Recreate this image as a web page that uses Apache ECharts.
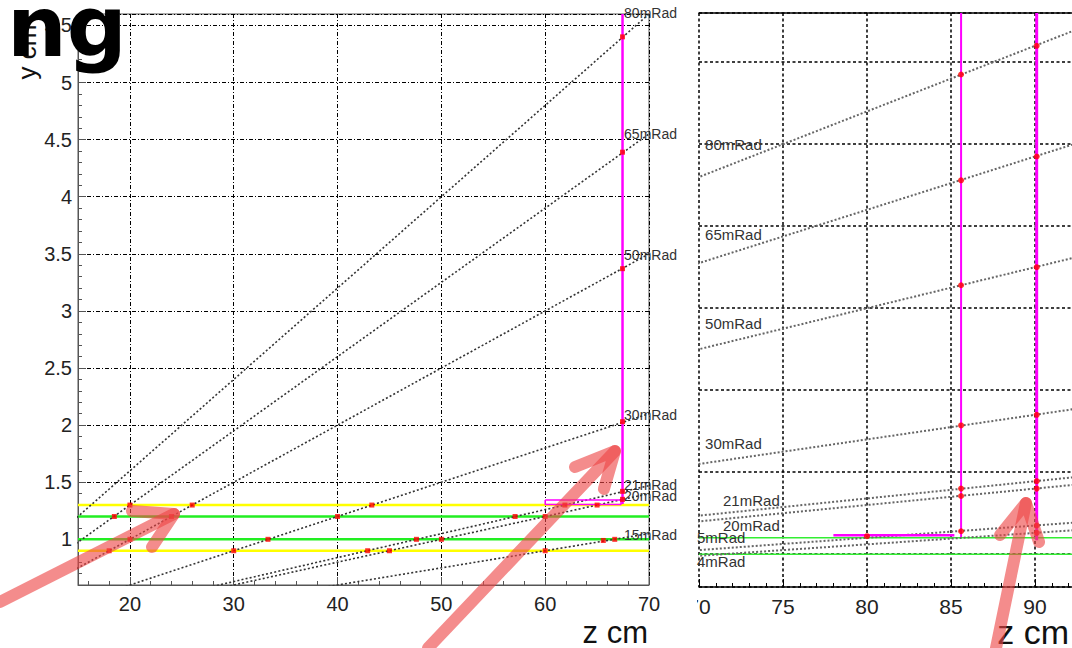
<!DOCTYPE html>
<html><head><meta charset="utf-8">
<script src="https://cdn.jsdelivr.net/npm/echarts@6/dist/echarts.min.js"></script>
<style>html,body{margin:0;padding:0;background:#fff}#c{width:1072px;height:648px}</style>
</head><body><div id="c"></div>
<script>
// ---------------- data ----------------
// beam-angle lines through the origin, in mRad
const leftAnglesMrad  = [80, 65, 50, 30, 21, 20, 15];
const rightAnglesMrad = [80, 65, 50, 30, 21, 20, 15, 14];
// angle labels and their anchor points (z cm, y cm)
const leftLabels   = ['80mRad','65mRad','50mRad','30mRad','21mRad','20mRad','15mRad'];
const leftLabelZ   = [67.6, 67.6, 67.6, 67.6, 67.6, 67.6, 67.6];
const leftLabelY   = [5.61, 4.55, 3.49, 2.09, 1.48, 1.38, 1.04];
const rightLabels  = ['80mRad','65mRad','50mRad','30mRad','21mRad','20mRad','5mRad','4mRad'];
const rightLabelZ  = [70.36, 70.36, 70.36, 70.36, 71.43, 71.43, 69.88, 69.88];
const rightLabelY  = [6.0, 4.9, 3.81, 2.35, 1.65, 1.35, 1.2, 0.905];
// axis titles
const xTitle = 'z cm';
const yTitle = 'y cm';
// horizontal reference lines (y cm)
const yellowY = [1.3, 0.9];
const greenY  = [1.2, 1.0];
// red hit points (z cm, y cm)
const leftHits = [
  [67.45,5.4],[67.45,4.39],[67.45,3.37],[67.45,2.03],[67.45,1.42],[67.45,1.35],
  [20,1.3],[26,1.3],[43.3,1.3],[61.9,1.3],[65,1.3],
  [18.5,1.2],[24,1.2],[40,1.2],[57.1,1.2],[60,1.2],
  [20,1.0],[33.3,1.0],[47.6,1.0],[50,1.0],[65.6,0.99],[66.7,1.0],
  [18,0.9],[30,0.9],[42.9,0.9],[45,0.9],[60,0.9]
];
const rightHits = [
  [85.6,6.85],[85.6,5.56],[85.6,4.28],[85.6,2.57],[85.6,1.80],[85.6,1.71],[85.6,1.28],
  [90.1,7.2],[90.1,5.85],[90.1,4.5],[90.1,2.7],[90.1,1.89],[90.1,1.8],[90.1,1.35],[90.1,1.26],
  [80,1.22]
];
// magenta detector outlines (z cm, y cm)
const leftMagentaV   = [[67.45,1.31],[67.45,5.6]];
const leftMagentaBox = [[60,1.345],[67.3,1.345],[67.3,1.305],[60,1.305],[60,1.345]];
const rightMagentaV1 = [[85.6,1.21],[85.6,7.6]];
const rightMagentaV2 = [[90.1,1.17],[90.1,7.6]];
const rightMagentaH  = [[78,1.23],[85.2,1.23]];
// pink annotation arrows, in data coordinates of their panel
const arrowPanel = [0, 0, 1];
const arrowShaft = [
  [[7.49,0.451],[24.25,1.222]],
  [[48.71,0.048],[66.72,1.773]],
  [[87.68,-0.144],[89.46,1.624]]
];
const arrowHead = [
  [[20.2,1.248],[24.25,1.222],[22.13,0.933]],
  [[62.87,1.633],[66.72,1.773],[65.66,1.441]],
  [[87.92,1.234],[89.46,1.624],[90.24,1.149]]
];
const leftRange  = {zMin:15, zMax:70, yMin:0.6, yMax:5.6};
const rightRange = {zMin:70, zMax:92.5, yMin:0.6, yMax:7.6};

// ---------------- chart ----------------
const FONT = 'Liberation Sans';
const chart = echarts.init(document.getElementById('c'), null, {renderer:'svg'});
const series = [];

function angleLine(theta, xi, yi, zEnd, color, width, dash){
  return {type:'line', xAxisIndex:xi, yAxisIndex:yi, clip:true, symbol:'none', silent:true,
    data:[[0,0],[zEnd, zEnd*theta/1000]],
    lineStyle:{color:color, width:width, type:dash}, z:3};
}
function poly(data, xi, yi, color, width, z){
  return {type:'line', xAxisIndex:xi, yAxisIndex:yi, clip:true, symbol:'none', silent:true,
    data:data, lineStyle:{color:color, width:width}, z:z||4};
}
yellowY.forEach(y=>series.push(poly([[leftRange.zMin,y],[leftRange.zMax,y]],0,0,'#ffff00',2.5,2)));
greenY.forEach(y=>series.push(poly([[leftRange.zMin,y],[leftRange.zMax,y]],0,0,'#22ee22',2.5,2)));
greenY.forEach(y=>series.push(poly([[rightRange.zMin,y],[rightRange.zMax,y]],1,1,'#33ee33',1.5,2)));
leftAnglesMrad.forEach(t=>series.push(angleLine(t,0,0,leftRange.zMax,'#333',1.6,[2,2.2])));
rightAnglesMrad.forEach(t=>series.push(angleLine(t,1,1,rightRange.zMax,'#666',2,[2,2])));
series.push(poly(leftMagentaV,0,0,'#ff00ff',2.5));
series.push(poly(leftMagentaBox,0,0,'#ff00ff',1.5));
series.push(poly(rightMagentaV1,1,1,'#ff00ff',2));
series.push(poly(rightMagentaV2,1,1,'#ff00ff',3));
series.push(poly(rightMagentaH,1,1,'#ff00ff',2.5));
series.push({type:'scatter', xAxisIndex:0, yAxisIndex:0, symbol:'rect', symbolSize:5, silent:true,
  itemStyle:{color:'#ff0000'}, data:leftHits, z:6});
series.push({type:'scatter', xAxisIndex:1, yAxisIndex:1, symbol:'circle', symbolSize:6, silent:true,
  itemStyle:{color:'#ff0000'}, data:rightHits, z:6});

const gridLeft = {color:'#000', width:1, type:[4,2,1,2]};
const gridRight = {color:'#000', width:1.5, type:[3,2.5]};

chart.setOption({
  animation:false,
  backgroundColor:'#fff',
  grid:[
    {left:78, top:14, width:571, height:571, show:true, borderColor:'#555', borderWidth:1, backgroundColor:'transparent', outerBoundsMode:'none'},
    {left:699, top:13, width:378, height:574, outerBoundsMode:'none'}
  ],
  xAxis:[
    {type:'value', gridIndex:0, min:leftRange.zMin, max:leftRange.zMax, splitNumber:6,
     axisLine:{lineStyle:{color:'#555', width:1}},
     axisTick:{inside:true, length:8, lineStyle:{color:'#555'}},
     minorTick:{show:true, splitNumber:5, length:4, lineStyle:{color:'#555'}},
     axisLabel:{fontSize:20, color:'#222', margin:9, fontFamily:FONT, showMinLabel:false},
     splitLine:{show:true, lineStyle:gridLeft}},
    {type:'value', gridIndex:1, min:rightRange.zMin, max:rightRange.zMax, interval:5,
     axisLine:{lineStyle:{color:'#000', width:1.5}},
     axisTick:{inside:true, length:8, lineStyle:{color:'#000'}},
     minorTick:{show:true, splitNumber:5, length:4, lineStyle:{color:'#000'}},
     axisLabel:{fontSize:21, color:'#222', margin:9, fontFamily:FONT, showMaxLabel:false},
     splitLine:{show:true, lineStyle:gridRight}},
    {type:'value', gridIndex:1, position:'top', min:rightRange.zMin, max:rightRange.zMax,
     axisLine:{show:true, onZero:false, lineStyle:{color:'#000', width:1.5}},
     axisTick:{show:false}, axisLabel:{show:false}, splitLine:{show:false}}
  ],
  yAxis:[
    {type:'value', gridIndex:0, min:leftRange.yMin, max:leftRange.yMax, splitNumber:10,
     axisLine:{show:true, lineStyle:{color:'#555', width:1}},
     axisTick:{show:true, inside:true, length:8, lineStyle:{color:'#555'}},
     minorTick:{show:true, splitNumber:5, length:4, lineStyle:{color:'#555'}},
     axisLabel:{fontSize:20, color:'#222', margin:6, fontFamily:FONT, showMinLabel:false, showMaxLabel:false},
     splitLine:{show:true, lineStyle:gridLeft}},
    {type:'value', gridIndex:1, min:rightRange.yMin, max:rightRange.yMax, splitNumber:7,
     axisLine:{show:false}, axisTick:{show:false}, axisLabel:{show:false},
     splitLine:{show:true, lineStyle:gridRight}}
  ],
  series:series
});

// ---------- labels & annotations placed through the axes ----------
function px(panel, p){
  return chart.convertToPixel({xAxisIndex:panel, yAxisIndex:panel}, p);
}
const graphics = [];
leftLabels.forEach((t,i)=>{
  const p = px(0,[leftLabelZ[i], leftLabelY[i]]);
  graphics.push({type:'text', x:p[0], y:p[1], z:50, silent:true,
    style:{text:t, fill:'#333', font:'14px "'+FONT+'"', align:'left', verticalAlign:'middle'}});
});
rightLabels.forEach((t,i)=>{
  const p = px(1,[rightLabelZ[i], rightLabelY[i]]);
  graphics.push({type:'text', x:p[0], y:p[1], z:50, silent:true,
    style:{text:t, fill:'#333', font:'15px "'+FONT+'"', align:'left', verticalAlign:'middle'}});
});
// x axis titles, right-aligned under each panel's axis end
const lEnd = px(0,[leftRange.zMax, leftRange.yMin]);
graphics.push({type:'text', x:lEnd[0]-1, y:lEnd[1]+47, z:50, silent:true,
  style:{text:xTitle, fill:'#111', font:'31px "'+FONT+'"', align:'right', verticalAlign:'middle'}});
const rEnd = px(1,[rightRange.zMax, rightRange.yMin]);
graphics.push({type:'text', x:rEnd[0]-8, y:rEnd[1]+45, z:50, silent:true,
  style:{text:xTitle, fill:'#111', font:'34px "'+FONT+'"', align:'right', verticalAlign:'middle'}});
// crop of the right panel's left edge (the two panels are cut side by side)
graphics.push({type:'rect', z:40, silent:true, shape:{x:664, y:590, width:33, height:30}, style:{fill:'#fff'}});
// y axis title
graphics.push({type:'text', x:27, y:52, rotation:Math.PI/2, z:60, silent:true,
  style:{text:yTitle, fill:'#111', font:'26px "'+FONT+'"', align:'center', verticalAlign:'middle'}});
// arrows
const arrowColor = 'rgba(238,70,70,0.62)';
arrowShaft.forEach((s,i)=>{
  const pan = arrowPanel[i];
  graphics.push({type:'polyline', z:70, silent:true, shape:{points:s.map(p=>px(pan,p))},
    style:{stroke:arrowColor, lineWidth:12, lineCap:'round', lineJoin:'round', fill:null}});
  graphics.push({type:'polyline', z:71, silent:true, shape:{points:arrowHead[i].map(p=>px(pan,p))},
    style:{stroke:arrowColor, lineWidth:12, lineCap:'round', lineJoin:'round', fill:null}});
});
// handwritten fragment at top-left
graphics.push({type:'text', x:7, y:27, z:80, silent:true,
  style:{text:'ng', fill:'#000', font:'bold 84px "DejaVu Sans"', align:'left', verticalAlign:'middle'}});
chart.setOption({graphic:graphics});
</script></body></html>
